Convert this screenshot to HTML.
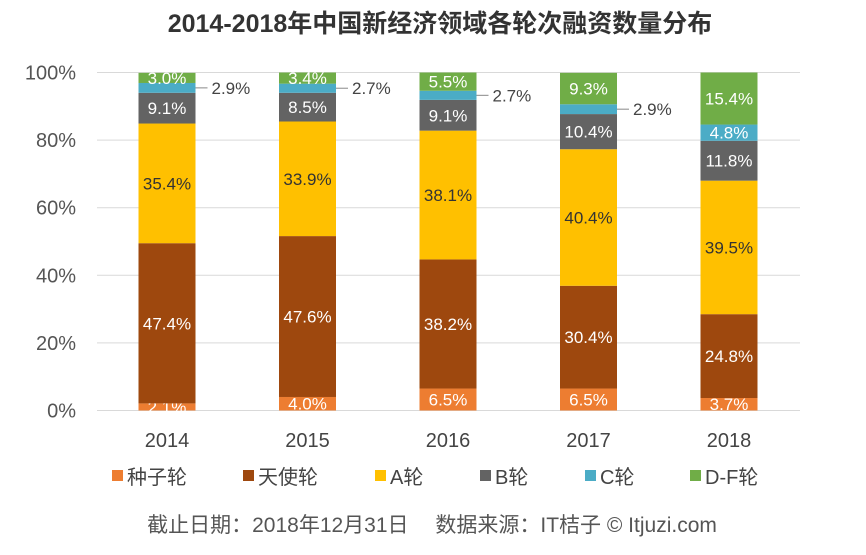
<!DOCTYPE html>
<html><head><meta charset="utf-8"><style>
body{margin:0;background:#fff;}
svg text{font-family:"Liberation Sans","Noto Sans CJK SC",sans-serif;}
</style></head><body>
<svg id="c" width="866" height="550">
<text x="440" y="32" text-anchor="middle" font-size="25" font-weight="bold" fill="#333">2014-2018年中国新经济领域各轮次融资数量分布</text>
<g id="grid"></g><g id="bars"></g><g id="legend"></g>
<text x="432" y="532" text-anchor="middle" font-size="21" fill="#555">截止日期：2018年12月31日　 数据来源：IT桔子 © Itjuzi.com</text>
</svg>
<script>
const years=["2014","2015","2016","2017","2018"];
const seriesNames=["种子轮","天使轮","A轮","B轮","C轮","D-F轮"];
const seed=[2.1,4.0,6.5,6.5,3.7];
const angel=[47.4,47.6,38.2,30.4,24.8];
const roundA=[35.4,33.9,38.1,40.4,39.5];
const roundB=[9.1,8.5,9.1,10.4,11.8];
const roundC=[2.9,2.7,2.7,2.9,4.8];
const roundDF=[3.0,3.4,5.5,9.3,15.4];
const yTicks=[0,20,40,60,80,100];
const series=[seed,angel,roundA,roundB,roundC,roundDF];
const colors=["#ED7D31","#9E480E","#FFC000","#636363","#4BACC6","#70AD47"];
const labelColors=["#fff","#fff","#333","#fff","#fff","#fff"];
const NS="http://www.w3.org/2000/svg";
const y0=410.5,y1=72.5,x0=97,x1=800;
const Y=v=>y0-(y0-y1)*v/100;
const X=i=>167+140.5*i;
const bw=57;
function mk(t,a,p){const e=document.createElementNS(NS,t);for(const k in a)e.setAttribute(k,a[k]);p.appendChild(e);return e;}
const grid=document.getElementById('grid');
yTicks.forEach(t=>{
 const l=mk('line',{x1:x0,x2:x1,y1:Y(t),y2:Y(t),stroke:'#d9d9d9','stroke-width':1},grid);
 
 
 const tx=mk('text',{x:76,y:Y(t)+7,'text-anchor':'end','font-size':20,fill:'#555'},grid);
 tx.textContent=t+'%';
 
 
});
const bars=document.getElementById('bars');
years.forEach((yr,i)=>{
 let cum=0;
 series.forEach((s,k)=>{
  const v=s[i];const top=Math.min(100,cum+v);
  const r=mk('rect',{x:X(i)-bw/2,y:Y(top),width:bw,height:Y(cum)-Y(top),fill:colors[k]},bars);
  
  
  const mid=(Y(cum)+Y(top))/2;
  let t;
  if(k===4 && v<4){
   const ly=Y(cum+v/2);
   mk('line',{x1:X(i)+bw/2,y1:ly,x2:X(i)+bw/2+12,y2:ly,stroke:'#888'},bars);
   t=mk('text',{x:X(i)+bw/2+16,y:ly+6,'font-size':17,fill:'#444'},bars);
  } else {
   t=mk('text',{x:X(i),y:mid+6,'text-anchor':'middle','font-size':17,fill:labelColors[k]},bars);
  }
  t.textContent=v.toFixed(1)+'%';
  
  
  cum+=v;
 });
 const xl=mk('text',{x:X(i),y:447,'text-anchor':'middle','font-size':20,fill:'#444'},bars);
 xl.textContent=yr;
 
 
});
const lg=document.getElementById('legend');
const lx=[112,243,375,480,585,690];
seriesNames.forEach((n,k)=>{
 const g=mk('g',{},lg);
 
 
 mk('rect',{x:lx[k],y:470,width:11,height:11,fill:colors[k]},g);
 const t=mk('text',{x:lx[k]+15,y:484,'font-size':20,fill:'#444'},g);
 t.textContent=n;
});
</script>
</body></html>
